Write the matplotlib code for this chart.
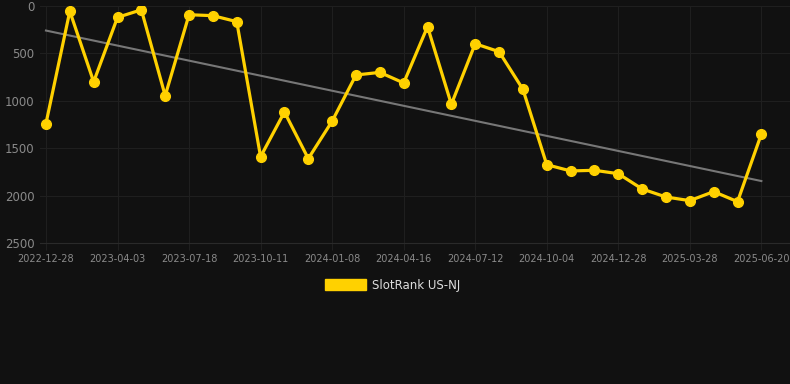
import matplotlib
matplotlib.use("Agg")
import matplotlib.pyplot as plt
import matplotlib.patches as mpatches
import numpy as np

tick_labels = ["2022-12-28", "2023-04-03", "2023-07-18", "2023-10-11", "2024-01-08",
               "2024-04-16", "2024-07-12", "2024-10-04", "2024-12-28", "2025-03-28",
               "2025-06-20"]
ranks = [1240, 55, 800, 120, 40, 946, 92, 102, 165, 1590,
         1118, 1610, 1215, 728, 700, 812, 218, 1037, 398, 482,
         879, 1674, 1740, 1733, 1769, 1930, 2015, 2053, 1958, 2064,
         1350]
series_name = "SlotRank US-NJ"

BG = "#111111"
GOLD = "#FFD100"
GRID = "#1f1f1f"
TXT = "#8a8a8a"

fig = plt.figure(figsize=(7.9, 3.84), dpi=100, facecolor=BG)
ax = fig.add_axes([40/790, 1-243/384, 750/790, 237/384])
ax.set_facecolor(BG)

x = np.arange(len(ranks))
coef = np.polyfit(x, ranks, 1)
ax.plot(x, np.polyval(coef, x), color="#777777", lw=1.5, zorder=2)
ax.plot(x, ranks, color=GOLD, lw=2.3, marker="o", ms=7, zorder=3)

ax.set_ylim(2500, 0)
ax.set_yticks([0, 500, 1000, 1500, 2000, 2500])
ax.set_xlim(-0.25, 31.2)
ax.set_xticks(x[::3])
ax.set_xticklabels(tick_labels)
ax.grid(True, color=GRID, lw=0.8)
ax.tick_params(axis="y", colors=TXT, labelsize=8.5, length=0, pad=4)
ax.tick_params(axis="x", colors=GRID, labelcolor=TXT, labelsize=7, length=5, pad=3)
for side in ["top", "right", "left"]:
    ax.spines[side].set_visible(False)
ax.spines["bottom"].set_color("#2a2a2a")

handle = mpatches.Patch(color=GOLD, label=series_name)
leg = fig.legend(handles=[handle], loc="center", bbox_to_anchor=(0.497, 1-285/384),
                 frameon=False, fontsize=8.5, handlelength=3.4, handleheight=1.0,
                 handletextpad=0.5)
for t in leg.get_texts():
    t.set_color("#dddddd")

fig.savefig("out.png", dpi=100, facecolor=BG)
